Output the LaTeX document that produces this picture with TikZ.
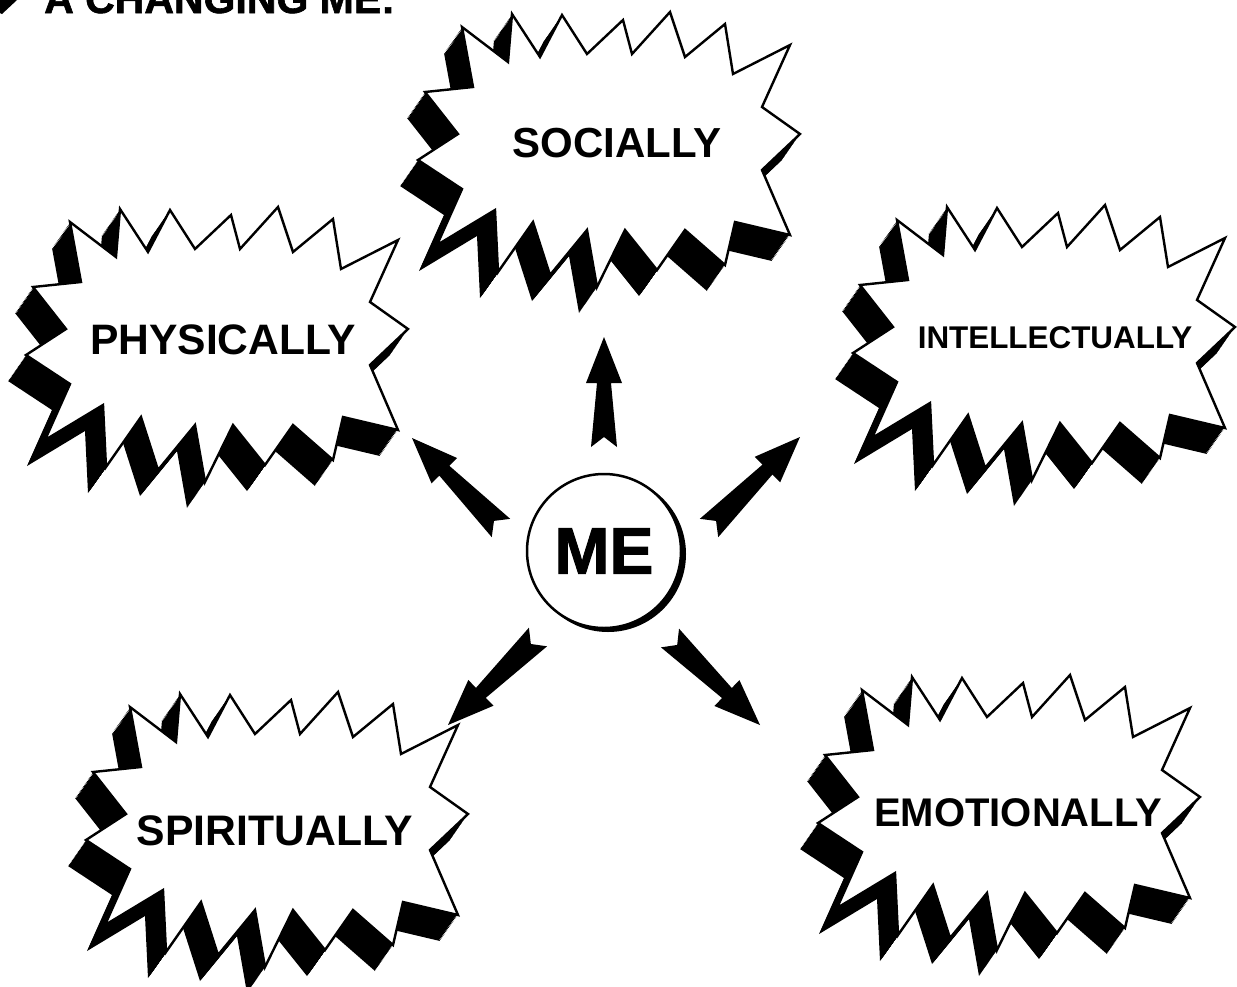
\documentclass[tikz,border=0pt]{standalone}
\usepackage{fontspec}
\setmainfont{Liberation Sans}
\newfontfamily\heavyfont[FakeBold=1.5]{Liberation Sans Bold}
\usetikzlibrary{calc}

\newcommand\burstpoly{(-155,-118) -- (-109,-83) -- (-105,-131) -- (-77,-88) -- (-55,-130)
  -- (-30,-91) -- (6,-125) -- (15,-91) -- (53,-133) -- (68,-88) -- (108,-121) -- (116,-71)
  -- (173,-100) -- (145,-38) -- (183,-11) -- (145,25) -- (173,90) -- (118,77) -- (108,120)
  -- (68,85) -- (40,125) -- (8,85) -- (-20,142) -- (-30,85) -- (-67,130) -- (-84,77)
  -- (-119,127) -- (-122,65) -- (-180,100) -- (-155,44) -- (-199,15) -- (-159,-11)
  -- (-192,-53) -- (-144,-58) -- cycle}

% fat arrow with a notched tail, #1 = tail, #2 = tip
\newcommand\fletch[2]{%
  \fill[fletch] (#2)
    -- ($(#2)!46pt!(#1)!18pt!90:(#1)$) -- ($(#2)!46pt!(#1)!7pt!90:(#1)$)
    -- ($(#1)!13pt!-90:(#2)$) -- ($(#1)!10pt!(#2)$) -- ($(#1)!13pt!90:(#2)$)
    -- ($(#2)!46pt!(#1)!7pt!-90:(#1)$) -- ($(#2)!46pt!(#1)!18pt!-90:(#1)$) -- cycle;}

\tikzset{
  % the white starburst and the black block it casts down to the left
  burst/edge/.style={draw=black, fill=white, line width=2.4pt},
  burst/shade/.style={fill=black},
  burst/label/.style={inner sep=0pt, text=black},
  fletch/.style={fill=black},
  pics/starburst/.style={code={
    \foreach \t in {1,...,20}
      \fill[burst/shade, shift={(-0.9*\t,1.3*\t)}] \burstpoly;
    \filldraw[burst/edge] \burstpoly;
  }},
}

\begin{document}
\begin{tikzpicture}[x=1pt,y=-1pt,
  lbl/.style={burst/label, font=\bfseries\fontsize{#1}{#1}\selectfont}]
  \path[use as bounding box, clip] (0,0) rectangle (1237,986);
  \fill (0,0) -- (17,0) -- (2,14) -- (0,13) -- cycle;
  \node[inner sep=0pt, anchor=base west, font=\heavyfont\fontsize{41}{41}\selectfont]
    (title) at (44,13) {A CHANGING ME:};

  \pic at (617,145) {starburst};
  \pic at (225,340) {starburst};
  \pic at (1052,338) {starburst};
  \pic at (285,825) {starburst};
  \pic at (1017,808) {starburst};

  \node[lbl=42]   (soc) at (617,143)  {SOCIALLY};
  \node[lbl=42.6] (phy) at (223,340)  {PHYSICALLY};
  \node[lbl=31.4] (int) at (1055,338) {INTELLECTUALLY};
  \node[lbl=42.7] (spi) at (275,831)  {SPIRITUALLY};
  \node[lbl=40]   (emo) at (1018,813) {EMOTIONALLY};

  \coordinate (mec) at (604,551);
  \fill ($(mec)+(4,3)$) circle (78pt);
  \node[circle, draw, fill=white, line width=2.5pt, minimum size=154pt, inner sep=0pt,
        font=\heavyfont\fontsize{66}{66}\selectfont] (me) at (mec) {ME};

  \coordinate (t1) at (604,447); \coordinate (h1) at (604,337);
  \coordinate (t2) at (501,528); \coordinate (h2) at (412,438);
  \coordinate (t3) at (709,528); \coordinate (h3) at (800,437);
  \coordinate (t4) at (538,637); \coordinate (h4) at (448,725);
  \coordinate (t5) at (670,638); \coordinate (h5) at (760,725);
  \fletch{t1}{h1} \fletch{t2}{h2} \fletch{t3}{h3} \fletch{t4}{h4} \fletch{t5}{h5}
\end{tikzpicture}
\end{document}
